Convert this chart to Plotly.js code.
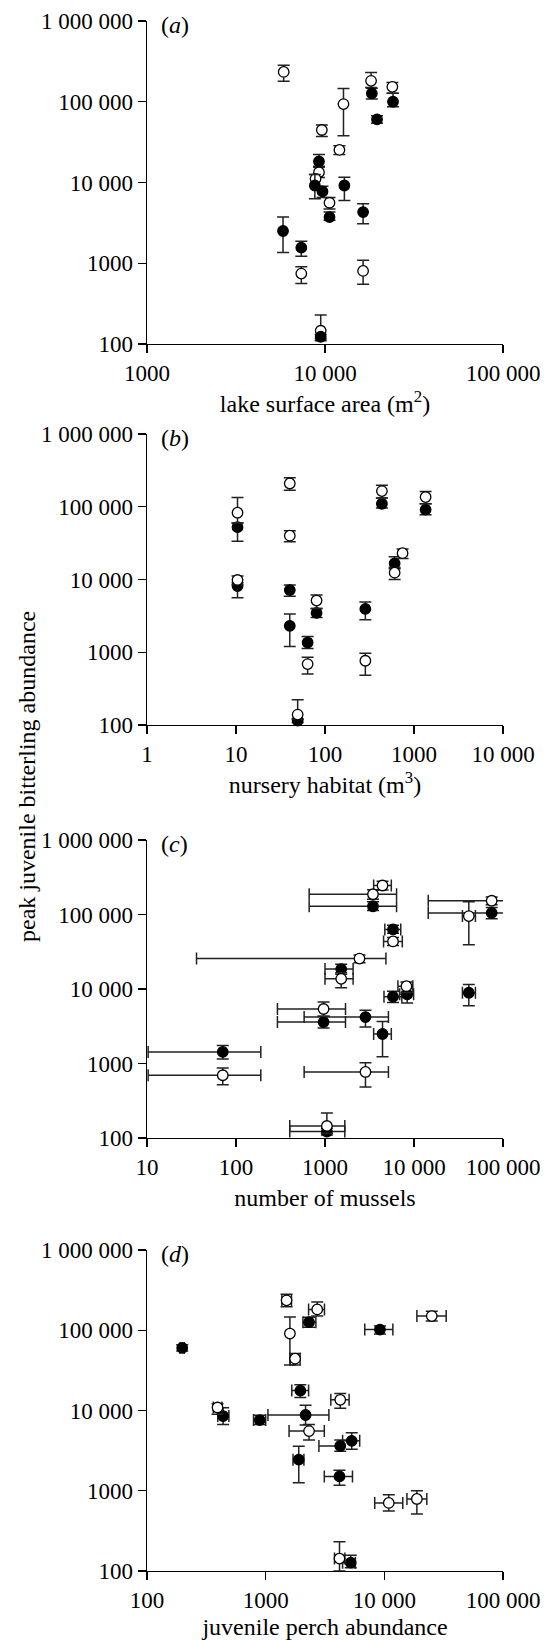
<!DOCTYPE html>
<html>
<head>
<meta charset="utf-8">
<script src="https://cdn.plot.ly/plotly-3.0.1.min.js"></script>
<style>html,body{margin:0;padding:0;background:#fff;}</style>
</head>
<body>
<div id="chart" style="width:555px;height:1640px;"></div>
<script>
// ---------- Panel (a): lake surface area ----------
const aOpenX   = [5860, 18150, 23900, 12700, 9600, 12050, 9250, 8850, 10600, 7360, 16370, 9460];
const aOpenY   = [234000, 181500, 153000, 93600, 44700, 25300, 13400, 11100, 5610, 745, 803, 146];
const aOpenYlo = [180000, 150000, 127000, 38000, 37000, 22200, 11500, 9000, 4700, 561, 551, 110];
const aOpenYhi = [284000, 230000, 173000, 146000, 51500, 28600, 15500, 12600, 6500, 902, 1090, 228];

const aClosedX   = [18330, 24100, 19600, 9250, 8770, 9680, 10600, 12850, 16370, 5810, 7360, 9460];
const aClosedY   = [127000, 100000, 60500, 18300, 9180, 7750, 3730, 9180, 4300, 2510, 1560, 123];
const aClosedYlo = [108000, 86700, 54000, 15900, 6300, 6500, 3400, 6000, 3090, 1355, 1220, 115];
const aClosedYhi = [147000, 127000, 67000, 22200, 12600, 9000, 4300, 11600, 5460, 3730, 1870, 131];

// ---------- Panel (b): nursery habitat ----------
const bOpenX   = [10.4, 40.2, 40.2, 10.4, 80.4, 63.8, 284, 49.3, 436, 1350, 744, 606];
const bOpenY   = [82800, 209000, 40000, 9840, 5140, 687, 764, 139, 164000, 136000, 23000, 12400];
const bOpenYlo = [60000, 169000, 33000, 8500, 4000, 502, 483, 120, 132000, 110000, 19500, 10000];
const bOpenYhi = [134000, 250000, 46600, 11200, 6100, 851, 966, 222, 198000, 162000, 26200, 14600];

const bClosedX   = [10.4, 10.4, 40.2, 80.4, 40.2, 63.8, 284, 49.3, 436, 1350, 606];
const bClosedY   = [52400, 8130, 7150, 3470, 2310, 1360, 3940, 115, 110000, 91200, 16700];
const bClosedYlo = [33500, 5600, 5900, 3000, 1195, 1130, 2800, 108, 96000, 77600, 14000];
const bClosedYhi = [60000, 9000, 8400, 4000, 3360, 1645, 4920, 122, 132000, 110000, 20500];

// ---------- Panel (c): number of mussels ----------
const cOpenX   = [4430, 3460, 74600, 41300, 5810, 2440, 1520, 8220, 964, 71, 2850, 1050];
const cOpenXlo = [3520, 664, 14450, 35000, 4550, 36, 1000, 6600, 292, 10.3, 583, 402];
const cOpenXhi = [5560, 6370, 118000, 49000, 7390, 4840, 2070, 9700, 1700, 190, 5160, 1670];
const cOpenY   = [245000, 187000, 153000, 95300, 43500, 25600, 13700, 10900, 5390, 695, 770, 145];
const cOpenYlo = [213000, 160000, 135000, 39400, 38500, 22500, 10400, 9000, 4300, 520, 485, 115];
const cOpenYhi = [279000, 215000, 172000, 148000, 49000, 28500, 16500, 12400, 6700, 870, 1020, 217];

const cClosedX   = [3460, 74600, 5810, 1520, 41300, 5810, 8380, 964, 2850, 4430, 71, 1050];
const cClosedXlo = [664, 14450, 4700, 1000, 35000, 4600, 6900, 292, 583, 3520, 10.3, 402];
const cClosedXhi = [6370, 118000, 7100, 2070, 49000, 7300, 9900, 1700, 5160, 5560, 190, 1670];
const cClosedY   = [129000, 105000, 63000, 18500, 8910, 7890, 8480, 3600, 4200, 2490, 1430, 122];
const cClosedYlo = [113000, 88000, 56000, 15800, 5970, 6600, 6500, 3000, 3100, 1230, 1150, 110];
const cClosedYhi = [148000, 124000, 72000, 21500, 11500, 9300, 10300, 4300, 5200, 3660, 1750, 135];

// ---------- Panel (d): juvenile perch abundance ----------
const dOpenX   = [1500, 2720, 25100, 1600, 1770, 4250, 393, 2320, 10900, 18800, 4190];
const dOpenXlo = [1370, 2300, 18800, 1600, 1610, 3540, 362, 1575, 8300, 15500, 3800];
const dOpenXhi = [1650, 3130, 33200, 1600, 1950, 5050, 428, 3120, 14300, 22800, 4650];
const dOpenY   = [236000, 182000, 150000, 91000, 44300, 13600, 10900, 5540, 705, 790, 143];
const dOpenYlo = [196000, 150000, 130000, 37000, 37000, 10700, 9000, 4300, 560, 515, 100];
const dOpenYhi = [280000, 225000, 173000, 146000, 51500, 16300, 12100, 6700, 890, 1000, 231];

const dClosedX   = [198, 2320, 9180, 1960, 438, 2170, 891, 5310, 4250, 1900, 4190, 5210];
const dClosedXlo = [190, 2060, 6840, 1660, 395, 1045, 790, 4450, 2810, 1700, 3120, 4450];
const dClosedXhi = [206, 2650, 11800, 2300, 490, 3410, 1000, 6200, 4480, 2100, 5390, 5700];
const dClosedY   = [60300, 126000, 102000, 17700, 8530, 8790, 7600, 4190, 3620, 2440, 1510, 127];
const dClosedYlo = [55000, 109000, 90000, 14500, 6700, 6600, 6700, 3300, 3100, 1257, 1170, 110];
const dClosedYhi = [66000, 145000, 113000, 21000, 10800, 11600, 8700, 5300, 4300, 3590, 1800, 157];

// ---------- tick labels / titles ----------
const yTickVals = [100, 1000, 10000, 100000, 1000000];
const yTickText = ['100', '1000', '10 000', '100 000', '1 000 000'];
const aXTickVals = [1000, 10000, 100000];
const aXTickText = ['1000', '10 000', '100 000'];
const bXTickVals = [1, 10, 100, 1000, 10000];
const bXTickText = ['1', '10', '100', '1000', '10 000'];
const cXTickVals = [10, 100, 1000, 10000, 100000];
const cXTickText = ['10', '100', '1000', '10 000', '100 000'];
const dXTickVals = [100, 1000, 10000, 100000];
const dXTickText = ['100', '1000', '10 000', '100 000'];
const xTitles = ['lake surface area (m<sup>2</sup>)', 'nursery habitat (m<sup>3</sup>)', 'number of mussels', 'juvenile perch abundance'];
const panelLabels = ['(<i>a</i>)', '(<i>b</i>)', '(<i>c</i>)', '(<i>d</i>)'];
const yTitle = 'peak juvenile bitterling abundance';

// ---------- helpers ----------
const FONT = '"Liberation Serif", "Times New Roman", Times, serif';
const W = 555, H = 1640;
const diff = (a, b) => a.map((v, i) => Math.max(0, v - b[i]));

function mkTrace(ax, filled, x, y, ylo, yhi, xlo, xhi) {
  const t = {
    type: 'scatter', mode: 'markers', x: x, y: y,
    xaxis: 'x' + ax, yaxis: 'y' + ax, cliponaxis: false, showlegend: false,
    marker: {size: 10.5, color: filled ? '#000' : '#fff', line: {color: '#000', width: 1.3}},
    error_y: {type: 'data', symmetric: false, array: diff(yhi, y), arrayminus: diff(y, ylo),
              color: '#222', thickness: 1.5, width: 6}
  };
  if (xlo) {
    t.error_x = {type: 'data', symmetric: false, array: diff(xhi, x), arrayminus: diff(x, xlo),
                 color: '#222', thickness: 1.5, width: 6};
  }
  return t;
}

const data = [
  mkTrace('', false, aOpenX, aOpenY, aOpenYlo, aOpenYhi),
  mkTrace('', true, aClosedX, aClosedY, aClosedYlo, aClosedYhi),
  mkTrace('2', true, bClosedX, bClosedY, bClosedYlo, bClosedYhi),
  mkTrace('2', false, bOpenX, bOpenY, bOpenYlo, bOpenYhi),
  mkTrace('3', true, cClosedX, cClosedY, cClosedYlo, cClosedYhi, cClosedXlo, cClosedXhi),
  mkTrace('3', false, cOpenX, cOpenY, cOpenYlo, cOpenYhi, cOpenXlo, cOpenXhi),
  mkTrace('4', true, dClosedX, dClosedY, dClosedYlo, dClosedYhi, dClosedXlo, dClosedXhi),
  mkTrace('4', false, dOpenX, dOpenY, dOpenYlo, dOpenYhi, dOpenXlo, dOpenXhi)
];

// panel pixel boxes (top, bottom) in page coordinates
const panelTop = [21, 434, 840, 1250];
const panelBot = [344, 725, 1138, 1571];
const xL = 147, xR = 503;
const xRanges = [[3, 5], [0, 4], [1, 5], [2, 5]];
const xTV = [aXTickVals, bXTickVals, cXTickVals, dXTickVals];
const xTT = [aXTickText, bXTickText, cXTickText, dXTickText];

const axisCommon = {
  type: 'log', showgrid: false, zeroline: false, showline: true, linecolor: '#000', linewidth: 1.3,
  ticks: 'outside', ticklen: 8, tickwidth: 1.3, tickcolor: '#000', automargin: false,
  tickfont: {family: FONT, size: 23, color: '#000'}, tickmode: 'array'
};

const layout = {
  width: W, height: H, margin: {l: 0, r: 0, t: 0, b: 0},
  paper_bgcolor: '#fff', plot_bgcolor: '#fff',
  font: {family: FONT, color: '#000'},
  showlegend: false, annotations: []
};

['', '2', '3', '4'].forEach((s, i) => {
  layout['xaxis' + s] = Object.assign({}, axisCommon, {
    domain: [xL / W, xR / W], range: xRanges[i], anchor: 'y' + s,
    tickvals: xTV[i], ticktext: xTT[i],
    title: {text: xTitles[i], font: {family: FONT, size: 24, color: '#000'}, standoff: 10}
  });
  layout['yaxis' + s] = Object.assign({}, axisCommon, {
    domain: [(H - panelBot[i]) / H, (H - panelTop[i]) / H], range: [2, 6], anchor: 'x' + s,
    tickvals: yTickVals, ticktext: yTickText
  });
  layout.annotations.push({
    text: panelLabels[i], xref: 'paper', yref: 'paper', showarrow: false,
    x: (xL + 12) / W, y: (H - panelTop[i] - 4) / H, xanchor: 'left', yanchor: 'middle',
    font: {family: FONT, size: 24, color: '#000'}
  });
});

layout.annotations.push({
  text: yTitle, xref: 'paper', yref: 'paper', showarrow: false, textangle: -90,
  x: 27 / W, y: (H - 777) / H, xanchor: 'center', yanchor: 'middle',
  font: {family: FONT, size: 24, color: '#000'}
});

Plotly.newPlot('chart', data, layout, {staticPlot: true, displayModeBar: false});
</script>
</body>
</html>
